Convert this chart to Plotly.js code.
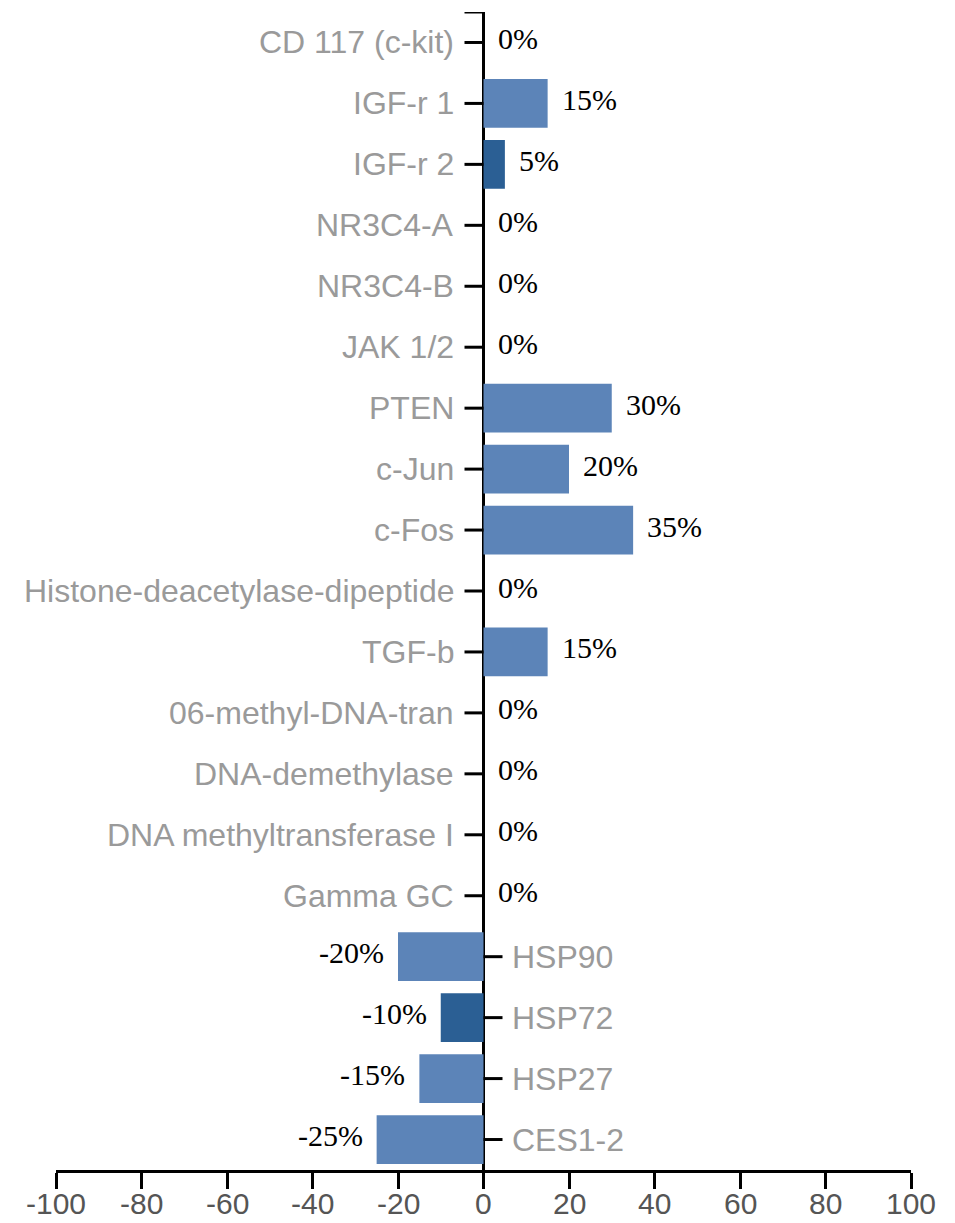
<!DOCTYPE html>
<html>
<head>
<meta charset="utf-8">
<script src="https://cdn.plot.ly/plotly-3.0.1.min.js"></script>
<style>html,body{margin:0;padding:0;background:#fff;}#chart{width:955px;height:1223px;}</style>
</head>
<body>
<div id="chart"></div>
<script>
const categories = ["CD 117 (c-kit)", "IGF-r 1", "IGF-r 2", "NR3C4-A", "NR3C4-B", "JAK 1/2", "PTEN", "c-Jun", "c-Fos", "Histone-deacetylase-dipeptide", "TGF-b", "06-methyl-DNA-tran", "DNA-demethylase", "DNA methyltransferase I", "Gamma GC", "HSP90", "HSP72", "HSP27", "CES1-2"];
const values = [0, 15, 5, 0, 0, 0, 30, 20, 35, 0, 15, 0, 0, 0, 0, -20, -10, -15, -25];
const highlighted = [false, false, true, false, false, false, false, false, false, false, false, false, false, false, false, false, true, false, false];
const xTicks = [-100, -80, -60, -40, -20, 0, 20, 40, 60, 80, 100];

const lightBlue = "#5C84B8";
const darkBlue = "#2B5F94";

const trace = {
  type: "bar",
  orientation: "h",
  y: categories,
  x: values,
  marker: { color: highlighted.map(h => h ? darkBlue : lightBlue) },
  hoverinfo: "none"
};

const annotations = [];
const shapes = [];
categories.forEach((c, i) => {
  const v = values[i];
  const neg = v < 0;
  // category label
  annotations.push({
    x: 0, y: c, xref: "x", yref: "y",
    text: c, showarrow: false,
    xanchor: neg ? "left" : "right",
    xshift: neg ? 26 : -28,
    font: { family: "Liberation Sans, Arial, sans-serif", size: 32, color: "#9a9a9a" }
  });
  // value label
  annotations.push({
    x: v, y: c, xref: "x", yref: "y",
    text: v + "%", showarrow: false,
    xanchor: neg ? "right" : "left",
    xshift: neg ? -12 : 12,
    yshift: 4,
    font: { family: "Liberation Serif, Times New Roman, serif", size: 30, color: "#000000" }
  });
  // y tick
  shapes.push({
    type: "line", xref: "x", yref: "y", xsizemode: "pixel", xanchor: 0,
    x0: neg ? 0 : -19, x1: neg ? 19 : 0, y0: i, y1: i,
    line: { color: "#000", width: 3 }
  });
});
// top tick at upper edge of category range
shapes.push({
  type: "line", xref: "x", yref: "y", xsizemode: "pixel", xanchor: 0,
  x0: -19, x1: 0, y0: -0.5, y1: -0.5,
  line: { color: "#000", width: 3 }
});
// x tick labels
xTicks.forEach(t => {
  annotations.push({
    x: t, y: 0, xref: "x", yref: "paper",
    text: String(t), showarrow: false, borderpad: 0,
    xanchor: "center", yanchor: "top", yshift: -16,
    font: { family: "Liberation Sans, Arial, sans-serif", size: 30, color: "#555555" }
  });
});

const layout = {
  width: 955, height: 1223,
  margin: { l: 56, r: 44, t: 12, b: 53 },
  paper_bgcolor: "#fff", plot_bgcolor: "#fff",
  showlegend: false,
  bargap: 0.2,
  xaxis: {
    range: [-100, 100],
    tickvals: xTicks,
    showticklabels: false,
    showgrid: false,
    zeroline: true, zerolinecolor: "#000", zerolinewidth: 3,
    showline: true, linecolor: "#000", linewidth: 3,
    ticks: "outside", ticklen: 16, tickwidth: 3, tickcolor: "#000",
    fixedrange: true
  },
  yaxis: {
    type: "category",
    categoryorder: "array", categoryarray: categories,
    range: [categories.length - 0.5, -0.5],
    showgrid: false, zeroline: false, showline: false,
    showticklabels: false, ticks: "",
    fixedrange: true
  },
  annotations: annotations,
  shapes: shapes
};

Plotly.newPlot("chart", [trace], layout, { staticPlot: true, displayModeBar: false });
</script>
</body>
</html>
